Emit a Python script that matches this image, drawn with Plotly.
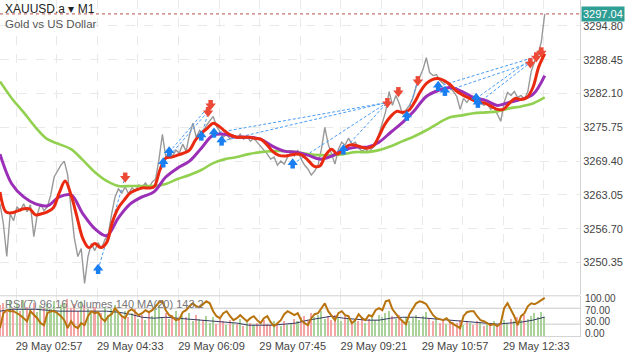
import pandas as pd
import plotly.graph_objects as go

# ---------------- data ----------------
T0 = pd.Timestamp("2025-05-29 02:38")

# grey close line, one value every 4 minutes
price = [3261.37, 3257.63, 3251.47, 3259.50, 3258.19, 3260.81, 3260.06, 3261.37, 3259.87, 3261.18,
         3255.20, 3259.31, 3261.37, 3260.06, 3260.81, 3263.05, 3266.41, 3267.53, 3268.65, 3269.40,
         3266.79, 3260.43, 3254.83, 3251.47, 3252.96, 3246.43, 3251.47, 3253.90, 3252.59, 3254.08,
         3252.96, 3254.65, 3255.58, 3259.50, 3262.68, 3264.17, 3263.42, 3264.54, 3263.24, 3264.36,
         3263.80, 3264.92, 3264.54, 3265.29, 3264.36, 3265.48, 3266.04, 3269.77, 3274.44, 3270.15,
         3271.27, 3270.34, 3271.46, 3270.90, 3272.58, 3271.27, 3274.26, 3276.50, 3273.88, 3275.19,
         3274.63, 3276.12, 3276.87, 3277.80, 3275.94, 3274.82, 3273.88, 3274.44, 3273.51, 3274.26,
         3273.70, 3274.44, 3273.51, 3274.07, 3273.14, 3273.70, 3272.95, 3272.39, 3271.64, 3270.71,
         3269.77, 3270.15, 3268.65, 3269.40, 3268.84, 3270.15, 3271.08, 3270.34, 3271.46, 3269.77,
         3268.65, 3267.91, 3266.79, 3267.53, 3268.65, 3271.64, 3275.75, 3272.58, 3270.71, 3268.84,
         3271.64, 3272.95, 3272.39, 3273.70, 3272.58, 3272.95, 3271.83, 3271.27, 3271.64, 3271.08,
         3271.83, 3272.39, 3274.44, 3276.50, 3278.74, 3282.47, 3279.86, 3281.73, 3280.23, 3278.18,
         3279.11, 3279.86, 3281.17, 3283.41, 3285.09, 3286.58, 3288.82, 3286.02, 3285.46, 3285.65,
         3284.53, 3283.97, 3284.34, 3283.22, 3282.47, 3281.54, 3279.11, 3281.17, 3280.42, 3281.35,
         3280.98, 3280.05, 3280.79, 3279.86, 3280.23, 3279.11, 3279.49, 3278.18, 3276.87, 3280.42,
         3282.29, 3281.73, 3282.47, 3281.35, 3281.73, 3280.98, 3282.47, 3286.21, 3288.08, 3289.38,
         3291.81, 3297.04]

# fast MA (red), one value every 7 minutes
fast_ma = [3263.61, 3259.87, 3259.69, 3260.06, 3260.43, 3260.43, 3259.31, 3259.50, 3259.87, 3260.62,
           3263.42, 3265.67, 3263.05, 3258.94, 3254.83, 3253.15, 3253.90, 3253.15, 3254.08, 3258.01,
           3260.62, 3262.12, 3263.42, 3263.98, 3264.36, 3264.36, 3264.54, 3267.72, 3269.96, 3270.15,
           3270.52, 3270.90, 3271.46, 3273.32, 3274.63, 3275.56, 3276.50, 3275.94, 3275.00, 3274.26,
           3273.88, 3273.88, 3273.88, 3273.70, 3273.51, 3272.58, 3271.27, 3270.52, 3270.34, 3270.52,
           3270.71, 3270.52, 3269.59, 3268.47, 3268.47, 3270.52, 3271.64, 3270.71, 3271.64, 3272.39,
           3272.39, 3272.02, 3271.83, 3272.20, 3274.07, 3276.31, 3277.80, 3278.74, 3278.55, 3278.92,
           3280.42, 3282.47, 3283.97, 3284.71, 3284.90, 3284.53, 3283.78, 3282.66, 3281.91, 3281.35,
           3280.79, 3280.42, 3280.23, 3279.67, 3279.11, 3279.11, 3280.23, 3281.17, 3280.98, 3281.35,
           3283.22, 3287.14, 3289.57]

# medium MA (purple) and slow MA (green), one value every 14 minutes
mid_ma = [3270.71, 3265.11, 3262.68, 3261.37, 3261.00, 3262.68, 3263.05, 3259.50, 3256.70, 3255.39,
          3258.75, 3261.37, 3262.68, 3263.61, 3266.41, 3268.09, 3269.40, 3271.83, 3274.26, 3274.44,
          3273.88, 3273.88, 3273.51, 3272.20, 3271.27, 3271.08, 3270.52, 3269.77, 3270.34, 3271.46,
          3272.02, 3272.02, 3272.95, 3274.82, 3276.68, 3278.92, 3281.54, 3282.66, 3283.22, 3282.47,
          3281.35, 3280.79, 3279.86, 3280.42, 3280.98, 3281.91, 3285.46]
slow_ma = [3284.34, 3281.17, 3278.55, 3275.75, 3273.51, 3272.58, 3271.64, 3269.59, 3267.35, 3265.67,
           3264.73, 3264.73, 3264.73, 3264.73, 3265.11, 3266.04, 3266.79, 3267.72, 3269.03, 3269.77,
           3270.15, 3270.71, 3271.08, 3271.27, 3271.27, 3271.08, 3270.71, 3270.52, 3270.52, 3270.71,
           3271.08, 3271.08, 3271.46, 3272.20, 3273.14, 3274.07, 3275.19, 3276.50, 3277.62, 3277.99,
           3278.37, 3278.55, 3278.74, 3279.30, 3279.67, 3280.23, 3281.35]

# RSI(7), every 4 minutes
rsi = [20, 57.5, 65, 62.5, 62.5, 57.5, 52.5, 45, 37.5, 62.5, 55, 45, 32.5, 27.5, 57.5, 62.5, 62.5, 57.5, 50, 40,
       20, 37.5, 25, 20, 32.5, 27.5, 50, 62.5, 57.5, 60, 45, 37.5, 50, 55, 70, 60, 50, 45, 62.5, 67.5,
       60, 52.5, 57.5, 65, 60, 65, 75, 85, 87.5, 65, 52.5, 47.5, 40, 42.5, 60, 65, 75, 82.5, 75, 72.5,
       80, 87.5, 82.5, 62.5, 50, 45, 57.5, 62.5, 50, 40, 45, 52.5, 45, 37.5, 45, 50, 40, 32.5, 45, 50,
       35, 25, 32.5, 40, 55, 62.5, 57.5, 52.5, 57.5, 40, 32.5, 27.5, 45, 55, 57.5, 70, 82.5, 62.5, 50, 40,
       57.5, 62.5, 52.5, 50, 32.5, 40, 55, 45, 40, 52.5, 50, 65, 70, 65, 87.5, 90, 67.5, 55, 45, 37.5,
       30, 55, 70, 82.5, 87.5, 85, 80, 65, 52.5, 45, 42.5, 40, 45, 35, 30, 25, 20, 50, 60, 62.5,
       62.5, 50, 40, 37.5, 32.5, 27.5, 30, 25, 32.5, 70, 82.5, 65, 50, 27.5, 50, 57.5, 75, 82.5, 80, 85,
       90, 96.16]

# tick volumes, every 4 minutes
volume = [230, 250, 180, 260, 210, 240, 190, 270, 220, 200, 250, 180, 230, 210,
          240, 200, 260, 190, 230, 250, 280, 210, 240, 190, 260, 230, 200, 180, 220, 190,
          170, 210, 160, 200, 230, 180, 150, 190, 140, 170, 200, 130, 160, 120, 180,
          150, 200, 230, 140, 170, 130, 160, 190, 120, 150, 140, 170, 110, 160, 130,
          120, 150, 100, 140, 90, 130, 110, 80, 120, 100, 90, 130, 70, 110, 95, 85,
          100, 75, 120, 90, 80, 110, 95, 70, 115, 85, 100, 130, 110, 140,
          150, 120, 170, 140, 160, 190, 130, 150, 120, 160, 140, 110, 150, 125, 100,
          130, 115, 140, 100, 125, 150, 120, 160, 140, 170, 190, 150, 130, 160, 120,
          145, 110, 135, 160, 120, 150, 180, 130, 110, 140, 100, 125, 90, 115, 105,
          95, 120, 85, 110, 100, 80, 115, 95, 75, 105, 90, 110, 80, 100, 120,
          95, 130, 110, 140, 120, 160, 130, 150, 170, 145, 180, 140]
# volume MA(20), every 14 minutes
vol_ma = [188, 202, 202, 202, 195, 188, 188, 188, 188, 188, 180, 165, 142, 135, 142, 135, 128, 120, 112, 105,
          98, 82, 82, 82, 90, 98, 120, 135, 150, 135, 128, 120, 120, 135, 142, 142, 135, 128, 120, 112,
          105, 98, 90, 98, 105, 120, 143.2]

# deals (minutes after 02:38)
buy_min = [116, 193, 200, 238, 253, 262, 346, 406, 481, 518, 526, 563, 565]
buy_price = [3249.04, 3269.03, 3271.08, 3274.07, 3274.63, 3273.14, 3268.84, 3271.46, 3277.80,
             3283.41, 3282.47, 3281.17, 3280.23]
sell_min = [148, 246, 249, 458, 471, 494, 627, 634, 640]
sell_price = [3266.41, 3278.74, 3280.05, 3280.42, 3282.47, 3284.53, 3287.89, 3289.01, 3289.94]
close_min = [148, 246, 249, 249, 458, 458, 458, 458, 494, 634, 627, 640, 627]
close_price = [3266.41, 3278.74, 3280.05, 3280.05, 3280.42, 3280.42, 3280.42, 3280.42, 3284.53,
               3289.01, 3287.89, 3289.94, 3287.89]

price_levels = [3250.35, 3256.70, 3263.05, 3269.40, 3275.75, 3282.10, 3288.45, 3294.80]
last_price = 3297.04
title_text = "XAUUSD.a \u25be M1"
subtitle_text = "Gold vs US Dollar"
panel_text = "RSI(7) 96.16 Volumes 140 MA(20) 143.2"
rsi_levels = [100, 70, 30, 0]


def at(minutes):
    return [T0 + pd.Timedelta(minutes=float(m)) for m in minutes]


price_t = at(range(0, 4 * len(price), 4))
fast_t = at(range(0, 7 * len(fast_ma), 7))
ma_t = at(range(0, 14 * len(mid_ma), 14))
grid_t = at(range(19, 19 + 48 * 14, 48))
tick_text = [("29 May " + t.strftime("%H:%M")) if n % 2 == 0 else "" for n, t in enumerate(grid_t)]

vol_colors = ["#a9d39b" if (i > 0 and price[i] >= price[i - 1]) else "#f4a5a5" for i in range(len(price))]

FONT = "Liberation Sans, Arial, sans-serif"
W, H = 625, 352
XD = 580 / W
Y_RANGE = [3244.19, 3299.655]
MAIN_PX = 297
PX = (Y_RANGE[1] - Y_RANGE[0]) / MAIN_PX   # price units per pixel (for arrow glyph offsets)

fig = go.Figure()

# price
fig.add_trace(go.Scatter(x=price_t, y=price, mode="lines", line=dict(color="#999999", width=1.4),
                         xaxis="x", yaxis="y", hoverinfo="skip"))
# deal connection lines
tx, ty = [], []
for om, op, cm, cp in zip(buy_min, buy_price, close_min, close_price):
    tx += at([om, cm]) + [None]
    ty += [op, cp, None]
fig.add_trace(go.Scatter(x=tx, y=ty, mode="lines", line=dict(color="#4a9cf5", width=1, dash="3px,2px"),
                         xaxis="x", yaxis="y", hoverinfo="skip"))
# moving averages
fig.add_trace(go.Scatter(x=ma_t, y=slow_ma, mode="lines", line=dict(color="#92d050", width=2.6, shape="spline"),
                         xaxis="x", yaxis="y"))
fig.add_trace(go.Scatter(x=ma_t, y=mid_ma, mode="lines", line=dict(color="#9b2fb8", width=3, shape="spline"),
                         xaxis="x", yaxis="y"))
fig.add_trace(go.Scatter(x=fast_t, y=fast_ma, mode="lines", line=dict(color="#ea2a10", width=3, shape="spline"),
                         xaxis="x", yaxis="y"))

# deal arrows: block arrow = triangle head + square stem
BLUE, RED = "#1a7ff0", "#ec4a37"
fig.add_trace(go.Scatter(x=at(buy_min), y=[p - 2.2 * PX for p in buy_price], mode="markers",
                         marker=dict(symbol="square", size=4.5, color=BLUE), xaxis="x", yaxis="y"))
fig.add_trace(go.Scatter(x=at(buy_min), y=[p + 1.3 * PX for p in buy_price], mode="markers",
                         marker=dict(symbol="triangle-up", size=9, color=BLUE), xaxis="x", yaxis="y"))
fig.add_trace(go.Scatter(x=at(sell_min), y=[p + 2.2 * PX for p in sell_price], mode="markers",
                         marker=dict(symbol="square", size=4.5, color=RED), xaxis="x", yaxis="y"))
fig.add_trace(go.Scatter(x=at(sell_min), y=[p - 1.3 * PX for p in sell_price], mode="markers",
                         marker=dict(symbol="triangle-down", size=9, color=RED), xaxis="x", yaxis="y"))

# volumes (base of lower panel)
fig.add_trace(go.Bar(x=price_t, y=volume, marker=dict(color=vol_colors, line=dict(width=0)),
                     width=4 * 60000 * 0.45, xaxis="x2", yaxis="y2"))
fig.add_trace(go.Scatter(x=ma_t, y=vol_ma, mode="lines", line=dict(color="#353b62", width=1),
                         xaxis="x2", yaxis="y2"))
# RSI on top
fig.add_trace(go.Scatter(x=price_t, y=rsi, mode="lines", line=dict(color="#b8730c", width=2),
                         xaxis="x2", yaxis="y3"))

XR = [T0, T0 + pd.Timedelta(minutes=685.7)]
main_bottom = 1 - MAIN_PX / H
sub_top = 1 - 298 / H
sub_bottom = 1 - 338 / H

fig.update_layout(
    width=W, height=H, margin=dict(l=0, r=0, t=0, b=0),
    paper_bgcolor="white", plot_bgcolor="white", showlegend=False,
    font=dict(family=FONT, size=11, color="#444"),
    bargap=0,
    xaxis=dict(domain=[0, XD], range=XR, anchor="y", tickvals=grid_t, showticklabels=False,
               showgrid=True, gridcolor="#e9e9e9", griddash="dash", gridwidth=1, zeroline=False,
               showline=False, ticks=""),
    xaxis2=dict(domain=[0, XD], range=XR, anchor="y2", matches="x", tickvals=grid_t, ticktext=tick_text,
                showgrid=True, gridcolor="#e9e9e9", griddash="dash", zeroline=False, ticks="",
                showline=True, linecolor="#d4d4d4", ticklabelshift=33,
                tickfont=dict(size=11, color="#444", family=FONT)),
    yaxis=dict(domain=[main_bottom, 1], range=Y_RANGE, anchor="x", side="right",
               tickvals=price_levels, ticktext=["%.2f" % v for v in price_levels],
               showgrid=True, gridcolor="#e9e9e9", griddash="dash", zeroline=False, ticks="",
               showline=True, linecolor="#d4d4d4", tickfont=dict(size=11, color="#444", family=FONT)),
    yaxis2=dict(domain=[sub_bottom, sub_top], range=[0, 300], anchor="x2", side="right",
                showticklabels=False, showgrid=False, zeroline=False, showline=True, linecolor="#d4d4d4"),
    yaxis3=dict(overlaying="y2", range=[0, 100], anchor="x2", side="right", showticklabels=False,
                showgrid=False, zeroline=False),
)

shapes = [
    dict(type="line", xref="paper", yref="paper", x0=0, x1=XD, y0=1 - 297.5 / H, y1=1 - 297.5 / H,
         line=dict(color="#cfcfcf", width=1)),
    dict(type="line", xref="paper", yref="y", x0=0, x1=XD, y0=last_price, y1=last_price,
         line=dict(color="#b5524c", width=1, dash="dot")),
]
for lv in (70, 30):
    shapes.append(dict(type="line", xref="paper", yref="y3", x0=0, x1=XD, y0=lv, y1=lv,
                       line=dict(color="#c9c9c9", width=1), layer="below"))
fig.update_layout(shapes=shapes)

ann = [
    dict(x=3 / W, y=1 - 9 / H, text=title_text, font=dict(size=12, color="#222")),
    dict(x=3 / W, y=1 - 24 / H, text=subtitle_text, font=dict(size=11.5, color="#555")),
    dict(x=3 / W, y=1 - 306 / H, text=panel_text, font=dict(size=11, color="#777")),
]
for lv, ypx in zip(rsi_levels, [300.5, 312, 323, 335]):
    ann.append(dict(x=583 / W, y=1 - ypx / H, text="%.2f" % lv, font=dict(size=10, color="#444")))
for a in ann:
    a.update(xref="paper", yref="paper", xanchor="left", yanchor="middle", showarrow=False)
ann.append(dict(x=581 / W, xref="paper", y=last_price, yref="y", xanchor="left", yanchor="middle",
                text="%.2f" % last_price, showarrow=False, bgcolor="#2f9e94", borderpad=1,
                width=40, align="left", font=dict(size=11, color="white")))
fig.update_layout(annotations=ann)

fig.write_html("out.html")
